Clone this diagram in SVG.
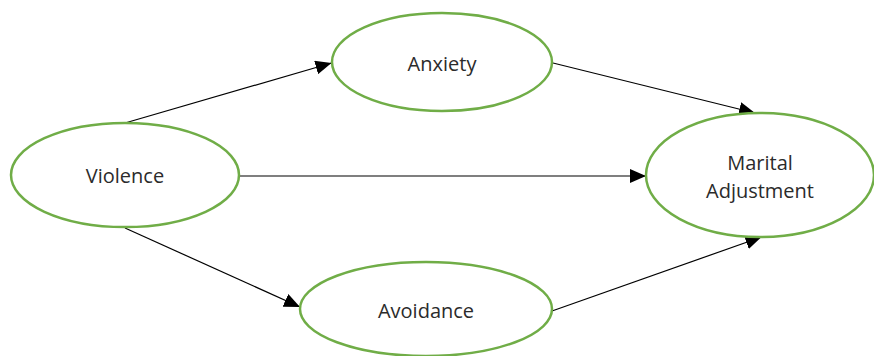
<svg xmlns="http://www.w3.org/2000/svg" width="874" height="356" viewBox="0 0 874 356">
<style>
.node ellipse{fill:#fff;stroke:#70ad47;stroke-width:2.5}
.node text{font-family:"Open Sans","Noto Sans",sans-serif;font-size:20px;fill:#2b2b2b;text-anchor:middle}
.edges line{stroke:#000;stroke-width:1.2}
</style>
<defs>
<marker id="arr" viewBox="0 0 16 14" refX="16" refY="7" markerWidth="16" markerHeight="14" markerUnits="userSpaceOnUse" orient="auto">
<path d="M0,0 L16,7 L0,14 z" fill="#000"/>
</marker>
</defs>
<rect width="874" height="356" fill="#fff"/>
<g class="edges">
<line x1="125" y1="123" x2="331.5" y2="63" marker-end="url(#arr)"/>
<line x1="553" y1="63" x2="755" y2="113" marker-end="url(#arr)"/>
<line x1="240" y1="176" x2="646" y2="176" marker-end="url(#arr)"/>
<line x1="125" y1="228" x2="300" y2="307" marker-end="url(#arr)"/>
<line x1="552" y1="311" x2="761.5" y2="237" marker-end="url(#arr)"/>
</g>
<g id="violence" class="node">
<ellipse cx="125" cy="175" rx="114" ry="52"/>
<text x="125" y="183">Violence</text>
</g>
<g id="anxiety" class="node">
<ellipse cx="442" cy="62" rx="110" ry="49"/>
<text x="442" y="71">Anxiety</text>
</g>
<g id="marital" class="node">
<ellipse cx="760" cy="175" rx="114" ry="62"/>
<text x="760" y="170">Marital</text>
<text x="760" y="198">Adjustment</text>
</g>
<g id="avoidance" class="node">
<ellipse cx="426" cy="309" rx="126" ry="47"/>
<text x="426" y="318">Avoidance</text>
</g>
</svg>
